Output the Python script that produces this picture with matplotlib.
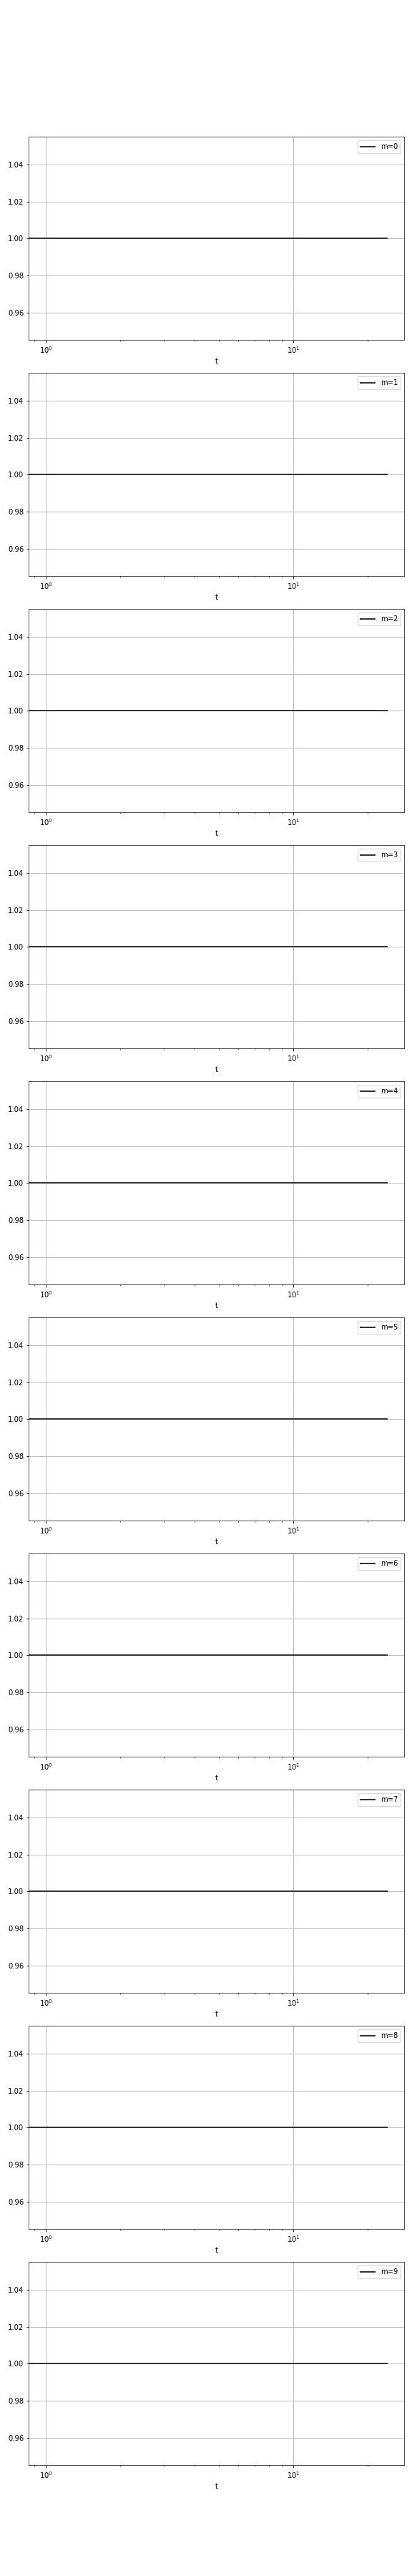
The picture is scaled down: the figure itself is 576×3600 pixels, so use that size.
import numpy as np
import matplotlib
matplotlib.use("Agg")
import matplotlib.pyplot as plt

# time grid and the (flat) value of each mode
t = np.arange(0, 25)
modes = list(range(10))
values = {m: np.ones_like(t, dtype=float) for m in modes}

plt.rcParams["font.size"] = 10
plt.rcParams["axes.edgecolor"] = "#262626"
fig = plt.figure(figsize=(8, 50), dpi=72)

left, width = 40.3 / 576, (565.3 - 40.3) / 576
top0, step, h = 191.3, 330.0, 284.0

for i, m in enumerate(modes):
    y_top = top0 + i * step
    ax = fig.add_axes([left, 1 - (y_top + h) / 3600, width, h / 3600])
    ax.plot(t, values[m], color="#333333", lw=2, label=f"m={m}")
    ax.set_xscale("log")
    ax.set_xlabel("t")
    ax.grid(True, color="#b0b0b0", lw=0.8)
    ax.legend(loc="upper right")

fig.savefig("out.png", dpi=72)
